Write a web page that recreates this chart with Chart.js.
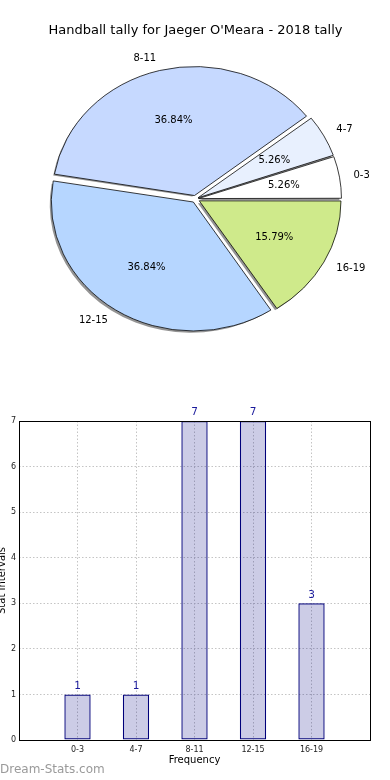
<!DOCTYPE html>
<html>
<head>
<meta charset="utf-8">
<script src="https://cdn.jsdelivr.net/npm/chart.js@4"></script>
<style>
  body { margin: 0; background: #fff; width: 390px; height: 780px; overflow: hidden; position: relative; }
  #pieChart { position: absolute; left: 0; top: 0; }
  #barChart { position: absolute; left: -8px; top: 395px; }
  .watermark { position: absolute; left: 0; top: 762px; font: 12px "DejaVu Sans"; color: #9a9a9a; line-height: 14px; }
</style>
</head>
<body>
<canvas id="pieChart" width="390" height="395"></canvas>
<canvas id="barChart" width="398" height="385"></canvas>
<div class="watermark">Dream-Stats.com</div>
<script>
// Data
const judul = "Handball tally for Jaeger O'Meara - 2018 tally";
const kategori = ["0-3", "4-7", "8-11", "12-15", "16-19"];
const jumlah = [1, 1, 7, 7, 3];
const yTicks = [0, 1, 2, 3, 4, 5, 6, 7];

// Warna irisan pie
const warnaPie = ["#ffffff", "#e8f0fe", "#c6d9ff", "#b6d6ff", "#cfea8b"];

const FONT = "DejaVu Sans";
const EXPLODE = 5; // geser tiap irisan (px)
const RASIO_Y = 0.908; // pie matplotlib agak lonjong

const total = jumlah.reduce((a, b) => a + b, 0);

// matplotlib menggambar berlawanan arah jarum jam dari timur -> balik urutan
const pieLabels = kategori.slice().reverse();
const pieData = jumlah.slice().reverse();
const pieWarna = warnaPie.slice().reverse();

function lonjong(ctx, arc) {
  ctx.translate(arc.x, arc.y);
  ctx.scale(1, RASIO_Y);
  ctx.translate(-arc.x, -arc.y);
}

// jarak geser yang dipakai ArcElement.draw
function geser(arc) {
  const circ = arc.endAngle - arc.startAngle;
  return (arc.options.offset / 4) * (2 - Math.sin(Math.min(Math.PI, circ)));
}

const piePlugin = {
  id: "piePlugin",
  beforeDatasetsDraw(chart) {
    const ctx = chart.ctx;
    const arcs = chart.getDatasetMeta(0).data;
    // bayangan
    ctx.save();
    ctx.translate(-2, 2);
    lonjong(ctx, arcs[0]);
    arcs.forEach((arc) => {
      const h = (arc.startAngle + arc.endAngle) / 2;
      const t = geser(arc);
      const x = arc.x + Math.cos(h) * t;
      const y = arc.y + Math.sin(h) * t;
      ctx.beginPath();
      ctx.moveTo(x, y);
      ctx.arc(x, y, arc.outerRadius, arc.startAngle, arc.endAngle);
      ctx.closePath();
      ctx.fillStyle = "rgba(0,0,0,0.42)";
      ctx.fill();
    });
    ctx.restore();
    ctx.save();
    lonjong(ctx, arcs[0]);
  },
  afterDatasetsDraw(chart) {
    const ctx = chart.ctx;
    ctx.restore();
    const arcs = chart.getDatasetMeta(0).data;
    ctx.save();
    ctx.font = "10px " + FONT;
    ctx.fillStyle = "#000";
    ctx.textBaseline = "middle";
    arcs.forEach((arc, i) => {
      const h = (arc.startAngle + arc.endAngle) / 2;
      const t = geser(arc);
      const c = Math.cos(h);
      const s = Math.sin(h);
      const R = arc.outerRadius;
      const pct = ((pieData[i] / total) * 100).toFixed(2) + "%";
      ctx.textAlign = "center";
      ctx.fillText(pct, arc.x + (t + 0.6 * R) * c, arc.y + (t + 0.6 * R) * s * RASIO_Y);
      ctx.textAlign = c > 0 ? "left" : "right";
      ctx.fillText(pieLabels[i], arc.x + (t + 1.1 * R) * c, arc.y + (t + 1.1 * R) * s * RASIO_Y);
    });
    ctx.restore();
  },
};

// Pie chart
new Chart(document.getElementById("pieChart"), {
  type: "pie",
  data: {
    labels: pieLabels,
    datasets: [
      {
        data: pieData,
        backgroundColor: pieWarna,
        borderColor: "#000",
        borderWidth: 0.8,
        offset: (c) => {
          const circ = (2 * Math.PI * c.raw) / total;
          return (4 * EXPLODE) / (2 - Math.sin(Math.min(Math.PI, circ)));
        },
      },
    ],
  },
  options: {
    responsive: false,
    animation: false,
    rotation: 90,
    radius: 141,
    layout: { padding: { left: 1, right: 0, top: 0, bottom: 35.6 } },
    plugins: {
      legend: { display: false },
      tooltip: { enabled: false },
      title: {
        display: true,
        text: judul,
        color: "#000",
        font: { family: FONT, size: 13, weight: "normal" },
        padding: { top: 23, bottom: 0 },
      },
    },
  },
  plugins: [piePlugin],
});

// Label angka di atas batang + bingkai
const barPlugin = {
  id: "barPlugin",
  afterDatasetsDraw(chart) {
    const ctx = chart.ctx;
    const meta = chart.getDatasetMeta(0);
    const data = chart.data.datasets[0].data;
    ctx.save();
    ctx.font = "10.5px " + FONT;
    ctx.fillStyle = "#1a1a9c";
    ctx.textAlign = "center";
    ctx.textBaseline = "bottom";
    meta.data.forEach((bar, i) => {
      if (data[i] == null) return;
      ctx.fillText(data[i], bar.x, bar.y - 3);
    });
    ctx.restore();
  },
  afterDraw(chart) {
    const { left, top, width, height } = chart.chartArea;
    const ctx = chart.ctx;
    ctx.save();
    ctx.strokeStyle = "#000";
    ctx.lineWidth = 1;
    ctx.strokeRect(Math.round(left) + 0.5, Math.round(top) + 0.5, Math.round(width), Math.round(height));
    ctx.restore();
  },
};

// Bar chart
new Chart(document.getElementById("barChart"), {
  type: "bar",
  data: {
    labels: ["", ...kategori, ""],
    datasets: [
      {
        data: [null, ...jumlah, null],
        backgroundColor: "rgba(0, 0, 128, 0.2)",
        borderColor: "#00007a",
        borderWidth: 1.2,
        borderSkipped: false,
        barPercentage: 0.45,
        categoryPercentage: 1,
      },
    ],
  },
  options: {
    responsive: false,
    animation: false,
    layout: { padding: { top: 26, right: 20, left: 0, bottom: 0 } },
    plugins: { legend: { display: false }, tooltip: { enabled: false } },
    scales: {
      x: {
        offset: false,
        grid: { color: "#c4c4c4", drawTicks: false, offset: false },
        border: { display: false, dash: [1.5, 2] },
        ticks: { font: { family: FONT, size: 8 }, color: "#222", padding: 5, autoSkip: false, maxRotation: 0 },
        title: {
          display: true,
          text: "Frequency",
          color: "#000",
          font: { family: FONT, size: 10 },
          padding: { top: 0, bottom: 14 },
        },
        afterFit: (s) => {
          s.height = 40;
        },
      },
      y: {
        min: 0,
        max: 7,
        afterBuildTicks: (s) => {
          s.ticks = yTicks.map((v) => ({ value: v }));
        },
        grid: { color: "#c4c4c4", drawTicks: false },
        border: { display: false, dash: [1.5, 2] },
        ticks: { font: { family: FONT, size: 8 }, color: "#222", padding: 3 },
        title: {
          display: true,
          text: "Stat Intervals",
          color: "#000",
          font: { family: FONT, size: 10 },
          padding: { top: 4, bottom: 0 },
        },
        afterFit: (s) => {
          s.width = 27;
        },
      },
    },
  },
  plugins: [barPlugin],
});
</script>
</body>
</html>
